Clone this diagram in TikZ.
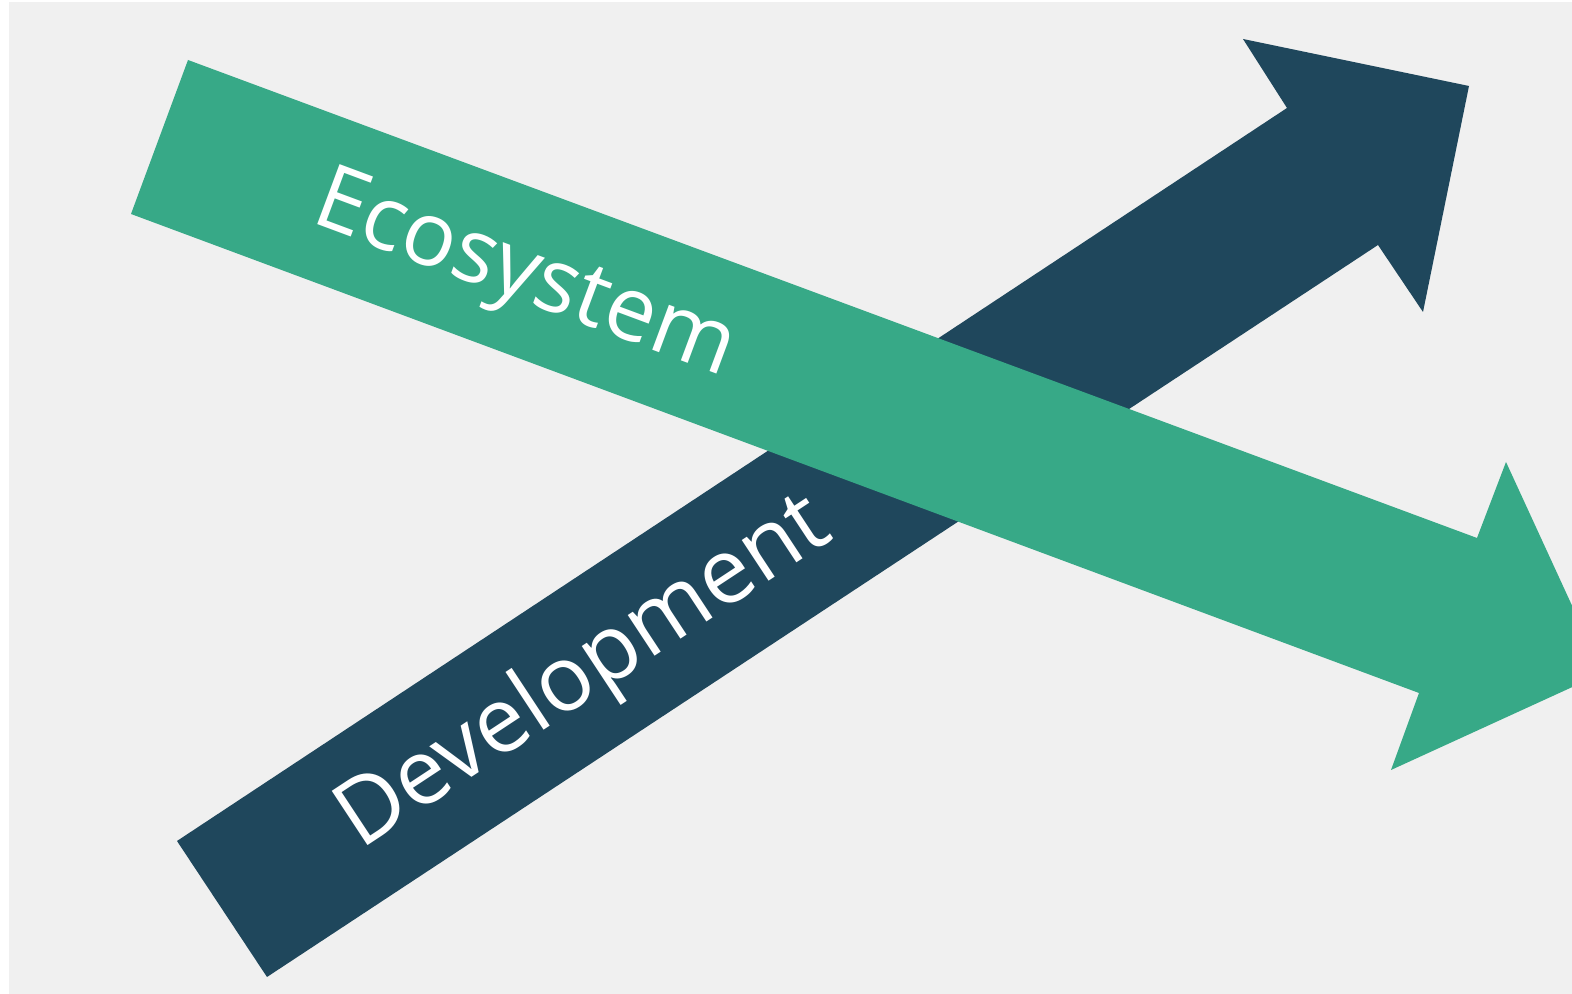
\documentclass[tikz,border=0pt]{standalone}
\usepackage{fontspec}
\setmainfont{Open Sans}
\usepackage{tikz}
\usetikzlibrary{positioning}
\definecolor{bgGrey}{RGB}{240,240,240}
\definecolor{ecoGreen}{RGB}{55,169,135}
\definecolor{devBlue}{RGB}{31,71,92}

\begin{document}
\begin{tikzpicture}[x=1cm, y=1cm]%
  \tikzset{big arrow/.style={draw=none}}
  \tikzstyle{every node}=[draw=none, text=white, inner sep=0pt, outer sep=0pt, anchor=base west, font=\fontsize{25.5}{30}\selectfont]

  % page and background
  \fill[white] (0,0) rectangle (15.72,-9.94);
  \fill[bgGrey] (0.09,-0.02) rectangle (15.72,-9.94);
  \useasboundingbox (0,0) rectangle (15.72,-9.94);
  \clip (0,0) rectangle (15.72,-9.94);

  % development arrow (below)
  \coordinate (devTailA) at (1.77,-8.41);
  \coordinate (devNotchA) at (12.87,-1.08);
  \coordinate (devBarbA) at (12.43,-0.39);
  \coordinate (devTip) at (14.69,-0.86);
  \coordinate (devBarbB) at (14.23,-3.12);
  \coordinate (devNotchB) at (13.78,-2.45);
  \coordinate (devTailB) at (2.67,-9.77);
  \path[big arrow, fill=devBlue] (devTailA) -- (devNotchA) -- (devBarbA) -- (devTip)
     -- (devBarbB) -- (devNotchB) -- (devTailB) -- cycle;

  % ecosystem arrow (on top)
  \coordinate (ecoTailA) at (1.88,-0.60);
  \coordinate (ecoNotchA) at (14.77,-5.38);
  \coordinate (ecoBarbA) at (15.06,-4.62);
  \coordinate (ecoTip) at (16.03,-6.73);
  \coordinate (ecoBarbB) at (13.91,-7.70);
  \coordinate (ecoNotchB) at (14.19,-6.93);
  \coordinate (ecoTailB) at (1.31,-2.14);
  \path[big arrow, fill=ecoGreen] (ecoTailA) -- (ecoNotchA) -- (ecoBarbA) -- (ecoTip)
     -- (ecoBarbB) -- (ecoNotchB) -- (ecoTailB) -- cycle;

  \node[rotate=-20.4] at (3.09,-2.22) (eco) {Ecosystem};
  \node[rotate=33.4, font=\fontsize{25.9}{30}\selectfont] at (3.60,-8.51) (dev) {Development};
\end{tikzpicture}
\end{document}
